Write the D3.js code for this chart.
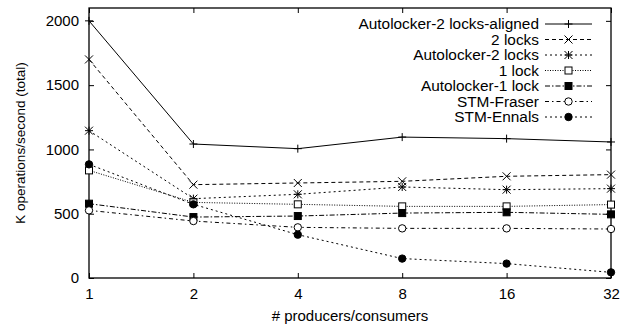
<!DOCTYPE html>
<html>
<head>
<meta charset="utf-8">
<script src="https://cdn.jsdelivr.net/npm/d3@7"></script>
<style>
  body { margin: 0; background: #fff; }
  text { font-family: "Liberation Sans", Arial, sans-serif; fill: #000; }
</style>
</head>
<body>
<div id="chart"></div>
<script>
// x categories (evenly spaced in the plot)
var threads = ["1", "2", "4", "8", "16", "32"];

// series values, K operations/second
var aligned2 = [2000, 1042, 1006, 1096, 1084, 1058];
var locks2   = [1700, 726, 739, 752, 791, 804];
var auto2    = [1146, 617, 651, 708, 687, 695];
var lock1    = [837, 588, 573, 557, 557, 571];
var auto1    = [578, 474, 482, 505, 511, 495];
var fraser   = [526, 443, 394, 386, 386, 381];
var ennals   = [884, 573, 337, 151, 112, 44];

var seriesNames = ["Autolocker-2 locks-aligned", "2 locks", "Autolocker-2 locks",
                   "1 lock", "Autolocker-1 lock", "STM-Fraser", "STM-Ennals"];
var yTicks = [0, 500, 1000, 1500, 2000];

var series = [
    { name: seriesNames[0], values: aligned2, dash: null,          mark: "plus" },
    { name: seriesNames[1], values: locks2,   dash: "4,3",         mark: "cross" },
    { name: seriesNames[2], values: auto2,    dash: "2,3",         mark: "star" },
    { name: seriesNames[3], values: lock1,    dash: "1,1.5",       mark: "square" },
    { name: seriesNames[4], values: auto1,    dash: "5,2,1.5,2",   mark: "fsquare" },
    { name: seriesNames[5], values: fraser,   dash: "4,3,1.5,3",   mark: "circle" },
    { name: seriesNames[6], values: ennals,   dash: "2,3",         mark: "fcircle" }
];

var W = 622, H = 326;
var m = { left: 89, right: 11, top: 8, bottom: 48 };
var fs = "15px";

var svg = d3.select("#chart").append("svg")
    .attr("width", W)
    .attr("height", H);

var x = d3.scalePoint()
    .domain(threads)
    .range([m.left, W - m.right]);

var y = d3.scaleLinear()
    .domain([0, 2100])
    .range([H - m.bottom, m.top]);

var plotW = W - m.left - m.right, plotH = H - m.top - m.bottom;

// axes, ticks pointing inward, mirrored on top/right
var tl = 5;
svg.append("g")
    .attr("transform", "translate(" + m.left + ",0)")
    .call(d3.axisLeft(y).tickValues(yTicks).tickFormat(d3.format("d")).tickSize(-tl).tickPadding(tl + 5))
    .call(function(g) {
        g.select(".domain").remove();
        g.selectAll("text").style("font-size", fs);
    });
svg.append("g")
    .attr("transform", "translate(" + (W - m.right) + ",0)")
    .call(d3.axisRight(y).tickValues(yTicks).tickSize(-tl).tickFormat(""))
    .call(function(g) { g.select(".domain").remove(); });
svg.append("g")
    .attr("transform", "translate(0," + (H - m.bottom) + ")")
    .call(d3.axisBottom(x).tickSize(-tl).tickPadding(tl + 5))
    .call(function(g) {
        g.select(".domain").remove();
        g.selectAll("text").style("font-size", fs);
    });
svg.append("g")
    .attr("transform", "translate(0," + m.top + ")")
    .call(d3.axisTop(x).tickSize(-tl).tickFormat(""))
    .call(function(g) { g.select(".domain").remove(); });

svg.selectAll(".tick line").attr("stroke", "#000");

svg.append("rect")
    .attr("x", m.left)
    .attr("y", m.top)
    .attr("width", plotW)
    .attr("height", plotH)
    .style("fill", "none")
    .style("stroke", "#000")
    .style("stroke-width", 1.3);

// axis labels
svg.append("text")
    .attr("transform", "translate(25," + (m.top + plotH / 2) + ") rotate(-90)")
    .style("text-anchor", "middle")
    .style("font-size", "13.5px")
    .text("K operations/second (total)");
svg.append("text")
    .attr("x", m.left + plotW / 2)
    .attr("y", 321)
    .style("text-anchor", "middle")
    .style("font-size", fs)
    .text("# producers/consumers");

// markers
function drawMark(g, type, cx, cy) {
    var s = 4;
    if (type === "plus") {
        g.append("path").attr("d", "M" + (cx - s) + "," + cy + "H" + (cx + s) + "M" + cx + "," + (cy - s) + "V" + (cy + s))
            .attr("stroke", "#000").attr("fill", "none");
    } else if (type === "cross") {
        g.append("path").attr("d", "M" + (cx - s) + "," + (cy - s) + "L" + (cx + s) + "," + (cy + s) + "M" + (cx - s) + "," + (cy + s) + "L" + (cx + s) + "," + (cy - s))
            .attr("stroke", "#000").attr("fill", "none");
    } else if (type === "star") {
        g.append("path").attr("d", "M" + (cx - s) + "," + cy + "H" + (cx + s) + "M" + cx + "," + (cy - s) + "V" + (cy + s) +
            "M" + (cx - s) + "," + (cy - s) + "L" + (cx + s) + "," + (cy + s) + "M" + (cx - s) + "," + (cy + s) + "L" + (cx + s) + "," + (cy - s))
            .attr("stroke", "#000").attr("fill", "none");
    } else if (type === "square" || type === "fsquare") {
        g.append("rect").attr("x", cx - 3.5).attr("y", cy - 3.5).attr("width", 7).attr("height", 7)
            .attr("stroke", "#000").attr("fill", type === "fsquare" ? "#000" : "#fff");
    } else {
        g.append("circle").attr("cx", cx).attr("cy", cy).attr("r", 3.7)
            .attr("stroke", "#000").attr("fill", type === "fcircle" ? "#000" : "#fff");
    }
}

var line = d3.line()
    .x(function(d, i) { return x(threads[i]); })
    .y(function(d) { return y(d); });

series.forEach(function(s) {
    svg.append("path")
        .attr("class", "series")
        .attr("d", line(s.values))
        .attr("fill", "none")
        .attr("stroke", "#000")
        .attr("stroke-width", 1)
        .attr("stroke-dasharray", s.dash);
});
series.forEach(function(s) {
    var g = svg.append("g").attr("class", "marks");
    s.values.forEach(function(v, i) {
        drawMark(g, s.mark, x(threads[i]), y(v));
    });
});

// legend
var legX = 539, legY0 = 24, legDy = 15.5;
var leg = svg.append("g").attr("class", "legend");
series.forEach(function(s, i) {
    var ly = legY0 + i * legDy;
    leg.append("text")
        .attr("x", legX)
        .attr("y", ly)
        .attr("dy", "0.35em")
        .style("text-anchor", "end")
        .style("font-size", "15.4px")
        .text(s.name);
    leg.append("line")
        .attr("x1", 545).attr("x2", 592)
        .attr("y1", ly).attr("y2", ly)
        .attr("stroke", "#000")
        .attr("stroke-dasharray", s.dash);
    drawMark(leg, s.mark, 568.5, ly);
});
</script>
</body>
</html>
